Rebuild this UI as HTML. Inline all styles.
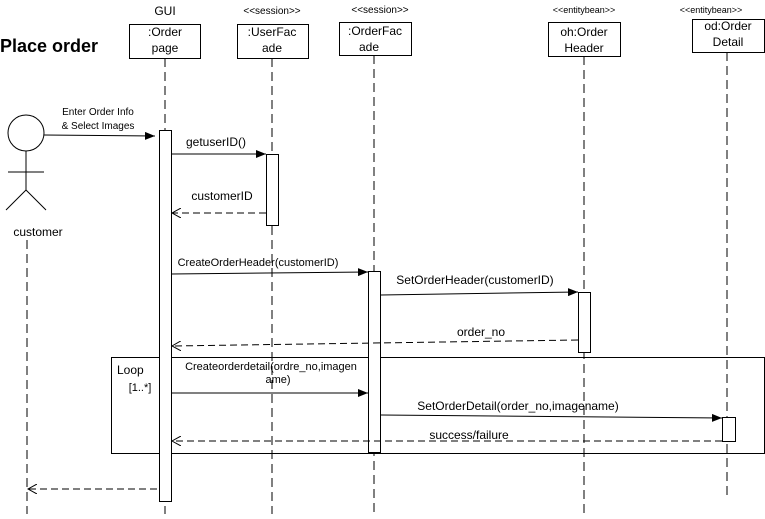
<!DOCTYPE html>
<html><head><style>
body{margin:0;background:#fff}
svg text{font-family:"Liberation Sans",Arial,sans-serif;fill:#000}
</style></head><body>
<svg width="765" height="514" viewBox="0 0 765 514" xmlns="http://www.w3.org/2000/svg">
<defs>
<marker id="f" markerWidth="10" markerHeight="8" refX="10" refY="4" orient="auto" markerUnits="userSpaceOnUse"><path d="M0,0L10,4L0,8z" fill="#000"/></marker>
<marker id="o" markerWidth="10" markerHeight="10" refX="9" refY="5" orient="auto" markerUnits="userSpaceOnUse"><path d="M0,0L9,5L0,10" fill="none" stroke="#000"/></marker>
</defs>
<g stroke="#000" stroke-width="1" fill="none">
<g stroke-dasharray="9,5">
<line x1="27" y1="240" x2="27" y2="514"/>
<line x1="165" y1="58" x2="165" y2="514"/>
<line x1="272" y1="58" x2="272" y2="514"/>
<line x1="374" y1="55" x2="374" y2="514"/>
<line x1="584" y1="56" x2="584" y2="514"/>
<line x1="727" y1="52" x2="727" y2="498"/>
</g>
<rect x="129.5" y="24.5" width="71" height="34" fill="#fff"/>
<rect x="237.5" y="24.5" width="71" height="34" fill="#fff"/>
<rect x="339.5" y="22.5" width="72" height="33" fill="#fff"/>
<rect x="548.5" y="22.5" width="72" height="34" fill="#fff"/>
<rect x="692.5" y="19.5" width="72" height="33" fill="#fff"/>
<rect x="111.5" y="357.5" width="653" height="96"/>
<rect x="159.5" y="130.5" width="12" height="371" fill="#fff"/>
<rect x="266.5" y="154.5" width="12" height="71" fill="#fff"/>
<rect x="368.5" y="271.5" width="12" height="181" fill="#fff"/>
<rect x="578.5" y="292.5" width="12" height="60" fill="#fff"/>
<rect x="722.5" y="417.5" width="13" height="24" fill="#fff"/>
<circle cx="26" cy="133" r="18" fill="#fff"/>
<line x1="26" y1="151" x2="26" y2="190"/>
<line x1="8" y1="172" x2="44" y2="172"/>
<line x1="26" y1="190" x2="6" y2="210"/>
<line x1="26" y1="190" x2="46" y2="210"/>
<line x1="44" y1="135" x2="155" y2="136" marker-end="url(#f)"/>
<line x1="171" y1="154" x2="266" y2="154" marker-end="url(#f)"/>
<line x1="266" y1="213" x2="172" y2="213" stroke-dasharray="7,4" marker-end="url(#o)"/>
<line x1="171" y1="274" x2="368" y2="272" marker-end="url(#f)"/>
<line x1="380" y1="295" x2="578" y2="292" marker-end="url(#f)"/>
<line x1="578" y1="340" x2="172" y2="346" stroke-dasharray="7,4" marker-end="url(#o)"/>
<line x1="171" y1="393" x2="368" y2="393" marker-end="url(#f)"/>
<line x1="380" y1="415" x2="722" y2="418" marker-end="url(#f)"/>
<line x1="722" y1="441" x2="172" y2="441" stroke-dasharray="7,4" marker-end="url(#o)"/>
<line x1="157" y1="489" x2="28" y2="489" stroke-dasharray="7,4" marker-end="url(#o)"/>
</g>
<text x="0" y="52" font-size="18" font-weight="bold">Place order</text>
<g font-size="12" text-anchor="middle">
<text x="165" y="15">GUI</text>
<text x="272" y="14" font-size="10">&lt;&lt;session&gt;&gt;</text>
<text x="380" y="13" font-size="10">&lt;&lt;session&gt;&gt;</text>
<text x="584" y="13" font-size="9">&lt;&lt;entitybean&gt;&gt;</text>
<text x="711" y="13" font-size="9">&lt;&lt;entitybean&gt;&gt;</text>
<text x="165" y="36">:Order</text><text x="165" y="52">page</text>
<text x="272" y="36">:UserFac</text><text x="272" y="52">ade</text>
<text x="375" y="35">:OrderFac</text><text x="369" y="51">ade</text>
<text x="584" y="36">oh:Order</text><text x="584" y="52">Header</text>
<text x="728" y="30">od:Order</text><text x="728" y="46">Detail</text>
<text x="38" y="236">customer</text>
<text x="98" y="115" font-size="10">Enter Order Info</text>
<text x="98" y="129" font-size="10">&amp; Select Images</text>
<text x="216" y="146">getuserID()</text>
<text x="222" y="200">customerID</text>
<text x="258" y="266" font-size="11">CreateOrderHeader(customerID)</text>
<text x="475" y="284">SetOrderHeader(customerID)</text>
<text x="481" y="336">order_no</text>
<text x="117" y="374" text-anchor="start">Loop</text>
<text x="140" y="391" font-size="11">[1..*]</text>
<text x="271" y="370" font-size="11">Createorderdetail(ordre_no,imagen</text>
<text x="278" y="383" font-size="11">ame)</text>
<text x="518" y="410">SetOrderDetail(order_no,imagename)</text>
<text x="469" y="439">success/failure</text>
</g>
</svg>
</body></html>
